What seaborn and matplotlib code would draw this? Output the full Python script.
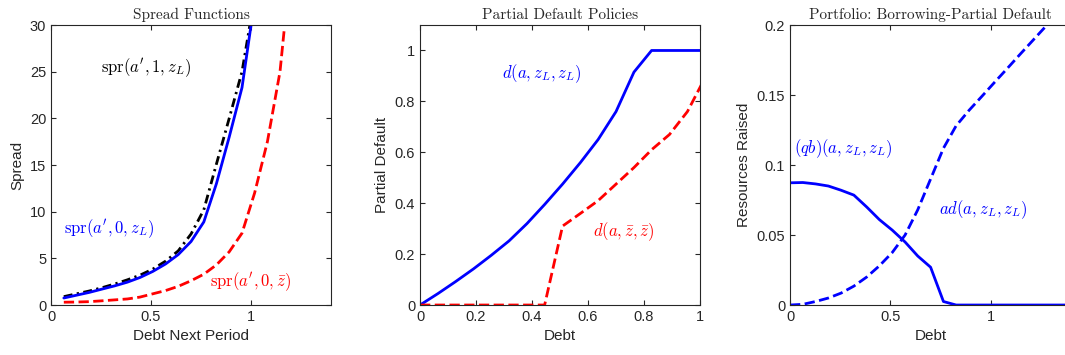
import matplotlib
matplotlib.use("Agg")
import matplotlib.pyplot as plt
import matplotlib.ticker as mticker
import seaborn as sns

# ---- data ----
# panel 1: spread functions
spr_x = [0.064, 0.127, 0.191, 0.254, 0.318, 0.382, 0.445, 0.509, 0.573, 0.636,
         0.700, 0.764, 0.827, 0.891, 0.955, 1.018]
spr_low_nodef = [0.75, 1.05, 1.35, 1.7, 2.05, 2.45, 2.95, 3.6, 4.4, 5.4,
                 6.8, 8.9, 13.0, 18.0, 23.3, 32.6]
spr_low_def = [0.9, 1.2, 1.5, 1.85, 2.25, 2.7, 3.2, 3.85, 4.7, 5.8,
               7.6, 10.2, 15.1, 20.0, 25.0, 33.0]
spr_red_x = [0.064, 0.127, 0.191, 0.254, 0.318, 0.382, 0.445, 0.509, 0.573, 0.636,
             0.700, 0.764, 0.827, 0.891, 0.955, 1.018, 1.082, 1.145, 1.166]
spr_mean = [0.3, 0.32, 0.36, 0.45, 0.55, 0.65, 0.85, 1.2, 1.55, 2.0,
            2.6, 3.3, 4.3, 5.7, 7.7, 12.0, 17.5, 25.0, 29.5]

# panel 2: partial default policies
debt = [0.0, 0.064, 0.127, 0.191, 0.254, 0.318, 0.382, 0.445, 0.509, 0.573,
        0.636, 0.700, 0.764, 0.827, 0.891, 0.955, 1.018]
d_low = [0.0, 0.045, 0.092, 0.142, 0.195, 0.252, 0.32, 0.395, 0.475, 0.56,
         0.65, 0.76, 0.915, 1.0, 1.0, 1.0, 1.0]
d_mean = [0.0, 0.0, 0.0, 0.0, 0.0, 0.0, 0.0, 0.0, 0.31, 0.36,
          0.41, 0.475, 0.54, 0.61, 0.67, 0.76, 0.893]

# panel 3: portfolio
debt_p = [0.0, 0.064, 0.127, 0.191, 0.254, 0.318, 0.382, 0.445, 0.509, 0.573,
          0.636, 0.700, 0.764, 0.827, 0.891, 0.955, 1.018, 1.082, 1.145, 1.209,
          1.273, 1.336, 1.4]
qb = [0.0873, 0.0875, 0.0865, 0.085, 0.082, 0.0785, 0.07, 0.061, 0.0535, 0.045,
      0.035, 0.027, 0.0025, 0.0, 0.0, 0.0, 0.0, 0.0, 0.0, 0.0,
      0.0, 0.0, 0.0]
ad = [0.0, 0.0005, 0.0025, 0.005, 0.0085, 0.0135, 0.02, 0.028, 0.0375, 0.05,
      0.068, 0.09, 0.112, 0.128, 0.139, 0.149, 0.159, 0.169, 0.179, 0.189,
      0.199, 0.209, 0.219]

sns.set_style("ticks")
plt.rcParams['font.family'] = ['Liberation Sans', 'DejaVu Sans']
plt.rcParams['mathtext.fontset'] = 'cm'
grey = '#262626'
plt.rcParams.update({
    'axes.edgecolor': grey, 'xtick.color': grey, 'ytick.color': grey,
    'axes.labelcolor': grey, 'axes.linewidth': 0.8,
    'xtick.direction': 'in', 'ytick.direction': 'in',
    'xtick.top': True, 'ytick.right': True,
    'xtick.major.size': 3.5, 'ytick.major.size': 3.5,
})

fig = plt.figure(figsize=(10.65, 3.55), dpi=100)
ax1 = fig.add_axes([0.0479, 0.1408, 0.2629, 0.7887])
ax2 = fig.add_axes([0.3944, 0.1408, 0.2629, 0.7887])
ax3 = fig.add_axes([0.7418, 0.1408, 0.2640, 0.7887])

lw = 2.0
dashdot = (0, (3.2, 1.6, 0.8, 1.6))
lab_fs = 11
tick_fs = 10.5
ann_fs = 12
title_fs = 11

# Spread functions
sns.lineplot(x=spr_x, y=spr_low_def, ax=ax1, color='black', linewidth=lw, linestyle=dashdot)
sns.lineplot(x=spr_x, y=spr_low_nodef, ax=ax1, color='blue', linewidth=lw)
sns.lineplot(x=spr_red_x, y=spr_mean, ax=ax1, color='red', linewidth=lw, linestyle='--')
ax1.set_xlim(0, 1.4)
ax1.set_ylim(0, 30)
ax1.set_xticks([0, 0.5, 1])
ax1.set_yticks([0, 5, 10, 15, 20, 25, 30])
ax1.set_xlabel('Debt Next Period', fontsize=lab_fs)
ax1.set_ylabel('Spread', fontsize=lab_fs)
ax1.set_title('Spread Functions', fontsize=title_fs, family='cmr10', pad=4)
ax1.text(0.474, 25.4, r"$\mathrm{spr}(a',1,z_L)$", color='black', fontsize=ann_fs, ha='center', va='center')
ax1.text(0.29, 8.2, r"$\mathrm{spr}(a',0,z_L)$", color='blue', fontsize=ann_fs, ha='center', va='center')
ax1.text(1.0, 2.5, r"$\mathrm{spr}(a',0,\bar{z})$", color='red', fontsize=ann_fs, ha='center', va='center')

# Partial default policies
sns.lineplot(x=debt, y=d_low, ax=ax2, color='blue', linewidth=lw)
sns.lineplot(x=debt, y=d_mean, ax=ax2, color='red', linewidth=lw, linestyle='--')
ax2.set_xlim(0, 1)
ax2.set_ylim(0, 1.1)
ax2.set_xticks([0, 0.2, 0.4, 0.6, 0.8, 1])
ax2.set_yticks([0, 0.2, 0.4, 0.6, 0.8, 1])
ax2.set_xlabel('Debt', fontsize=lab_fs)
ax2.set_ylabel('Partial Default', fontsize=lab_fs)
ax2.set_title('Partial Default Policies', fontsize=title_fs, family='cmr10', pad=4)
ax2.text(0.435, 0.908, r"$d(a,z_L,z_L)$", color='blue', fontsize=ann_fs, ha='center', va='center')
ax2.text(0.726, 0.288, r"$d(a,\bar{z},\bar{z})$", color='red', fontsize=ann_fs, ha='center', va='center')

# Portfolio
sns.lineplot(x=debt_p, y=qb, ax=ax3, color='blue', linewidth=lw)
sns.lineplot(x=debt_p, y=ad, ax=ax3, color='blue', linewidth=lw, linestyle='--')
ax3.set_xlim(0, 1.4)
ax3.set_ylim(0, 0.2)
ax3.set_xticks([0, 0.5, 1])
ax3.set_yticks([0, 0.05, 0.1, 0.15, 0.2])
ax3.set_xlabel('Debt', fontsize=lab_fs)
ax3.set_ylabel('Resources Raised', fontsize=lab_fs)
ax3.set_title('Portfolio: Borrowing-Partial Default', fontsize=title_fs, family='cmr10', pad=4)
ax3.text(0.262, 0.112, r"$(qb)(a,z_L,z_L)$", color='blue', fontsize=ann_fs, ha='center', va='center')
ax3.text(0.963, 0.068, r"$ad(a,z_L,z_L)$", color='blue', fontsize=ann_fs, ha='center', va='center')

for ax in (ax1, ax2, ax3):
    ax.xaxis.set_major_formatter(mticker.FormatStrFormatter('%g'))
    ax.yaxis.set_major_formatter(mticker.FormatStrFormatter('%g'))
    ax.tick_params(labelsize=tick_fs)
    for s in ax.spines.values():
        s.set_visible(True)
    if ax.get_legend() is not None:
        ax.get_legend().remove()

fig.savefig('out.png', dpi=100)
